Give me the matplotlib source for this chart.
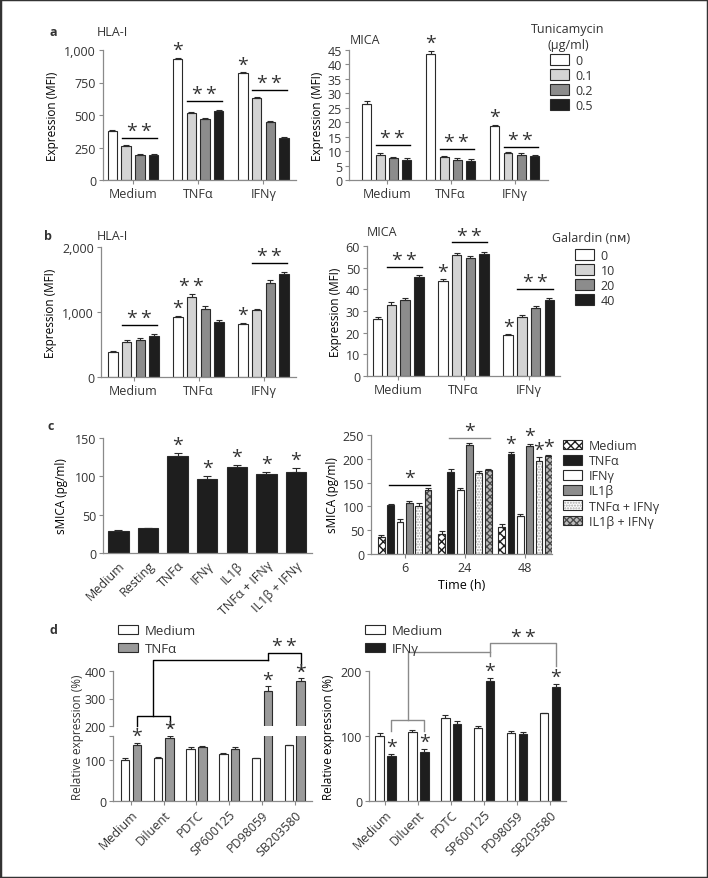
import matplotlib
matplotlib.use('Agg')
import matplotlib.pyplot as plt
import numpy as np
from matplotlib.patches import Patch, Rectangle
from matplotlib.ticker import FuncFormatter

W, H = 708, 879
TXT = '#333333'
EDGE = '#2a2a2a'

plt.rcParams['font.family'] = ['Open Sans', 'DejaVu Sans']
plt.rcParams['font.size'] = 9
plt.rcParams['text.color'] = TXT
plt.rcParams['axes.edgecolor'] = '#8a8a8a'
plt.rcParams['xtick.color'] = '#8a8a8a'
plt.rcParams['ytick.color'] = '#8a8a8a'
plt.rcParams['xtick.labelcolor'] = TXT
plt.rcParams['ytick.labelcolor'] = TXT
plt.rcParams['hatch.linewidth'] = 1.0

# ---- data ----
groups = ['Medium', 'TNFα', 'IFNγ']

# a: tunicamycin
tunicamycin = ['0', '0.1', '0.2', '0.5']
hla_tun = [[375, 258, 192, 192], [930, 515, 470, 528], [820, 630, 448, 322]]
hla_tun_err = [[8, 10, 10, 9], [8, 10, 8, 9], [8, 8, 8, 10]]
mica_tun = [[26.2, 8.8, 7.5, 7.0], [43.5, 7.8, 7.0, 6.6], [18.6, 9.2, 8.6, 8.2]]
mica_tun_err = [[1.0, 0.7, 0.6, 0.7], [1.2, 0.6, 0.6, 0.6], [0.6, 0.5, 0.6, 0.5]]

# b: galardin
galardin = ['0', '10', '20', '40']
hla_gal = [[380, 540, 575, 630], [930, 1235, 1040, 845], [820, 1030, 1450, 1580]]
hla_gal_err = [[20, 30, 20, 25], [15, 40, 45, 30], [15, 20, 45, 35]]
mica_gal = [[26.2, 33.0, 35.2, 45.8], [43.7, 56.0, 54.5, 56.3], [18.7, 27.2, 31.2, 35.2]]
mica_gal_err = [[1.0, 1.0, 1.0, 1.0], [1.0, 1.0, 1.0, 1.0], [0.5, 1.0, 1.0, 1.0]]

# c: sMICA
stimuli = ['Medium', 'Resting', 'TNFα', 'IFNγ', 'IL1β', 'TNFα + IFNγ', 'IL1β + IFNγ']
smica = [29, 32, 127, 97, 112, 103, 106]
smica_err = [1.5, 1, 4, 4, 3, 3, 5]
times = ['6', '24', '48']
time_series = ['Medium', 'TNFα', 'IFNγ', 'IL1β', 'TNFα + IFNγ', 'IL1β + IFNγ']
smica_time = [[36, 102, 67, 107, 101, 135],
              [43, 172, 135, 228, 170, 176],
              [56, 211, 79, 226, 196, 206]]
smica_time_err = [[3, 3, 6, 5, 6, 4],
                  [5, 6, 3, 5, 4, 2],
                  [6, 4, 4, 6, 7, 2]]

# d: inhibitors
inhibitors = ['Medium', 'Diluent', 'PDTC', 'SP600125', 'PD98059', 'SB203580']
rel_tnf = [[101, 137], [107, 155], [128, 132], [115, 128], [105, 328], [137, 364]]
rel_tnf_err = [[4, 6], [2, 5], [5, 4], [2, 4], [2, 17], [0, 10]]
rel_ifn = [[100, 70], [106, 75], [127, 119], [113, 184], [105, 103], [136, 176]]
rel_ifn_err = [[4, 3], [3, 5], [5, 4], [2, 5], [3, 3], [0, 4]]

# significance marks: (group, bar) and lines (group, bar_from, bar_to, level)
a_hla_star = [(1, 0), (2, 0)]
a_hla_lines = [(0, 1, 3, 323), (1, 1, 3, 608), (2, 1, 3, 692)]
a_mica_star = [(1, 0), (2, 0)]
a_mica_lines = [(0, 1, 3, 12.1), (1, 1, 3, 10.8), (2, 1, 3, 11.4)]
b_hla_star = [(1, 0), (2, 0)]
b_hla_dstar = [(1, 1)]
b_hla_lines = [(0, 1, 3, 800), (2, 1, 3, 1754)]
b_mica_star = [(1, 0), (2, 0)]
b_mica_lines = [(0, 1, 3, 50.3), (1, 1, 3, 61.7), (2, 1, 3, 40.1)]
c_star = [2, 3, 4, 5, 6]
c_time_star = [(2, 1), (2, 3), (2, 4), (2, 5)]
c_time_lines = [(0, 1, 5, 145, 'black'), (1, 1, 5, 244, '#8a8a8a')]
d_tnf_star = [(0, 1), (1, 1), (4, 1), (5, 1)]
d_ifn_star = [(0, 1), (1, 1), (3, 1), (5, 1)]
# bracket levels in panel d (inner bracket, link, outer bracket, outer right foot)
d_tnf_brackets = [236, 440, 465, 407]
d_ifn_brackets = [125, 229, 243, 208]

DSTAR = '*\u2009*'

fig = plt.figure(figsize=(W / 100, H / 100), dpi=100)


def box(x0, y0, x1, y1):
    return fig.add_axes([x0 / W, 1 - y1 / H, (x1 - x0) / W, (y1 - y0) / H])


def style(ax):
    for s in ['top', 'right']:
        ax.spines[s].set_visible(False)
    ax.spines['left'].set_linewidth(0.9)
    ax.spines['bottom'].set_linewidth(0.9)
    ax.tick_params(length=3, width=0.8, pad=2, labelsize=9)
    ax.set_facecolor('none')


def bars(ax, vals, errs, colors, pitch, width, hatches=None, hcolors=None):
    vals = np.asarray(vals, float)
    errs = np.asarray(errs, float)
    ng, nb = vals.shape
    base = np.arange(ng)
    pos = np.zeros((ng, nb))
    for j in range(nb):
        p = base + (j - (nb - 1) / 2) * pitch
        pos[:, j] = p
        if hatches and hatches[j]:
            ax.bar(p, vals[:, j], width, color=colors[j], edgecolor=hcolors[j],
                   hatch=hatches[j], lw=0)
            ax.bar(p, vals[:, j], width, fill=False, edgecolor=EDGE, lw=0.8)
        else:
            ax.bar(p, vals[:, j], width, color=colors[j], edgecolor=EDGE, lw=0.8)
        ax.errorbar(p, vals[:, j], yerr=[np.zeros(ng), errs[:, j]], fmt='none',
                    ecolor=EDGE, elinewidth=0.8, capsize=2, capthick=0.8)
    return pos, vals + errs


def star(ax, x, y, s='*', dy=2.0):
    ax.annotate(s, (x, y), xytext=(0, dy), textcoords='offset points',
                ha='center', va='baseline', fontsize=14, color=TXT,
                annotation_clip=False)


def sig_line(ax, x0, x1, y, color='black', s=DSTAR):
    ax.plot([x0, x1], [y, y], color=color, lw=1, clip_on=False)
    star(ax, (x0 + x1) / 2, y, s, dy=1.3)


def letter(s, x, y):
    fig.text(x / W, 1 - y / H, s, fontsize=9, fontweight='bold', va='center')


def title(s, x, y, ha='left'):
    fig.text(x / W, 1 - y / H, s, fontsize=9, va='center', ha=ha)


def legend(handles, labels, x, y, spacing=0.15, hh=0.95, fs=9):
    return fig.legend(handles, labels, loc='upper left',
                      bbox_to_anchor=(x / W, 1 - y / H), frameon=False,
                      handlelength=1.55, handleheight=hh, handletextpad=0.5,
                      labelspacing=spacing, borderpad=0, borderaxespad=0,
                      fontsize=fs)


thousands = FuncFormatter(lambda v, _: '{:,.0f}'.format(v))
tun_colors = ['white', '#d4d4d4', '#8c8c8c', '#1e1e1e']


def patches(colors):
    return [Patch(facecolor=c, edgecolor=EDGE, lw=0.8) for c in colors]


# ---- panel a ----
ax = box(103, 51, 296, 181)
style(ax)
pos, top = bars(ax, hla_tun, hla_tun_err, tun_colors, 0.21, 0.145)
ax.set_xlim(-0.46, 2.5)
ax.set_ylim(0, 1000)
ax.set_yticks([0, 250, 500, 750, 1000])
ax.yaxis.set_major_formatter(thousands)
ax.set_xticks(range(3), groups)
ax.set_ylabel('Expression (MFI)', fontsize=8.5, labelpad=4)
for g, b in a_hla_star:
    star(ax, pos[g, b], top[g, b])
for g, b0, b1, y in a_hla_lines:
    sig_line(ax, pos[g, b0] - 0.07, pos[g, b1] + 0.05, y)
letter('a', 49, 33)
title('HLA-I', 97, 33)

ax = box(349, 51, 548, 181)
style(ax)
pos, top = bars(ax, mica_tun, mica_tun_err, tun_colors, 0.21, 0.14)
ax.set_xlim(-0.59, 2.52)
ax.set_ylim(0, 45)
ax.set_yticks(range(0, 46, 5))
ax.set_xticks(range(3), groups)
ax.set_ylabel('Expression (MFI)', fontsize=8.5, labelpad=3)
for g, b in a_mica_star:
    star(ax, pos[g, b], top[g, b])
for g, b0, b1, y in a_mica_lines:
    sig_line(ax, pos[g, b0] - 0.07, pos[g, b1] + 0.05, y)
title('MICA', 350, 40)
title('Tunicamycin', 568, 30, ha='center')
title('(µg/ml)', 568, 45, ha='center')
legend(patches(tun_colors), tunicamycin, 550, 55)

# ---- panel b ----
ax = box(101, 248, 296, 378)
style(ax)
pos, top = bars(ax, hla_gal, hla_gal_err, tun_colors, 0.21, 0.145)
ax.set_xlim(-0.5, 2.5)
ax.set_ylim(0, 2000)
ax.set_yticks([0, 1000, 2000])
ax.yaxis.set_major_formatter(thousands)
ax.set_xticks(range(3), groups)
ax.set_ylabel('Expression (MFI)', fontsize=8.5, labelpad=4)
for g, b in b_hla_star:
    star(ax, pos[g, b], top[g, b])
for g, b in b_hla_dstar:
    star(ax, pos[g, b], top[g, b], DSTAR)
for g, b0, b1, y in b_hla_lines:
    sig_line(ax, pos[g, b0] - 0.07, pos[g, b1] + 0.05, y)
letter('b', 44, 237)
title('HLA-I', 97, 237)

ax = box(367, 247, 560, 377)
style(ax)
pos, top = bars(ax, mica_gal, mica_gal_err, tun_colors, 0.21, 0.145)
ax.set_xlim(-0.48, 2.48)
ax.set_ylim(0, 60)
ax.set_yticks(range(0, 61, 10))
ax.set_xticks(range(3), groups)
ax.set_ylabel('Expression (MFI)', fontsize=8.5, labelpad=3)
for g, b in b_mica_star:
    star(ax, pos[g, b], top[g, b])
for g, b0, b1, y in b_mica_lines:
    sig_line(ax, pos[g, b0] - 0.07, pos[g, b1] + 0.05, y)
title('MICA', 367, 233)
title('Galardin (nᴍ)', 552, 239)
legend(patches(tun_colors), galardin, 575, 250)

# ---- panel c ----
ax = box(103, 439, 312, 554)
style(ax)
x = np.arange(len(stimuli))
ax.bar(x, smica, 0.69, color='#1e1e1e', edgecolor=EDGE, lw=0.8)
ax.errorbar(x, smica, yerr=[np.zeros(len(x)), smica_err], fmt='none',
            ecolor=EDGE, elinewidth=0.8, capsize=3, capthick=0.8)
ax.set_xlim(-0.52, 6.54)
ax.set_ylim(0, 150)
ax.set_yticks([0, 50, 100, 150])
ax.set_xticks(x)
ax.set_xticklabels(stimuli, rotation=45, ha='right', va='top', rotation_mode='anchor')
ax.tick_params(axis='x', length=0, pad=4)
ax.set_ylabel('sMICA (pg/ml)', fontsize=8.5, labelpad=5)
for i in c_star:
    star(ax, x[i], smica[i] + smica_err[i])
letter('c', 48, 427)

ax = box(371, 436, 552, 555)
style(ax)
t_colors = ['white', '#1e1e1e', 'white', '#8c8c8c', 'white', '#bdbdbd']
t_hatch = ['xxxx', None, None, None, '......', 'xxxxx']
t_hcol = ['#1e1e1e', None, None, None, '#a8a8a8', '#4a4a4a']
pos, top = bars(ax, smica_time, smica_time_err, t_colors, 0.155, 0.113,
                hatches=t_hatch, hcolors=t_hcol)
ax.set_xlim(-0.56, 2.45)
ax.set_ylim(0, 250)
ax.set_yticks(range(0, 251, 50))
ax.set_xticks(range(3), times)
ax.set_xlabel('Time (h)', fontsize=9, labelpad=3)
ax.set_ylabel('sMICA (pg/ml)', fontsize=8.5, labelpad=3)
for g, b in c_time_star:
    star(ax, pos[g, b], top[g, b])
for g, b0, b1, y, col in c_time_lines:
    sig_line(ax, pos[g, b0] - 0.03, pos[g, b1] + 0.03, y, color=col, s='*')
handles = []
for c, h, hc in zip(t_colors, t_hatch, t_hcol):
    if h:
        handles.append((Patch(facecolor=c, edgecolor=hc, hatch=h, lw=0),
                        Patch(fill=False, edgecolor=EDGE, lw=0.8)))
    else:
        handles.append(Patch(facecolor=c, edgecolor=EDGE, lw=0.8))
legend(handles, time_series, 563, 440, spacing=0.17, hh=0.8)

# ---- panel d ----
d_colors_tnf = ['white', '#9a9a9a']
d_colors_ifn = ['white', '#1e1e1e']

up = box(113, 672, 312, 727)
lo = box(113, 737, 312, 802)
for a in (up, lo):
    style(a)
    pos, top = bars(a, rel_tnf, rel_tnf_err, d_colors_tnf, 0.36, 0.26)
    a.set_xlim(-0.55, 5.53)
up.set_ylim(200, 400)
up.set_yticks([200, 300, 400])
up.spines['bottom'].set_visible(False)
up.tick_params(axis='x', bottom=False, labelbottom=False)
lo.set_ylim(0, 160)
lo.set_yticks([0, 100, 160], ['0', '100', ''])
lo.set_xticks(range(len(inhibitors)))
lo.set_xticklabels(inhibitors, rotation=45, ha='right', va='top', rotation_mode='anchor')
for g, b in d_tnf_star:
    a = up if top[g, b] > 200 else lo
    star(a, pos[g, b], top[g, b], dy=1.2)
# brackets
lv0, lv1, lv2, lv3 = d_tnf_brackets
bx0, bx1 = pos[0, 1], pos[1, 1]
bm = (bx0 + bx1) / 2
up.plot([bx0, bx0, bx1, bx1], [200, lv0, lv0, 200], color='black', lw=1, clip_on=False)
up.plot([bm, bm, pos[4, 1]], [lv0, lv1, lv1], color='black', lw=1, clip_on=False)
up.plot([pos[4, 1], pos[4, 1], pos[5, 1], pos[5, 1]], [lv1, lv2, lv2, lv3],
        color='black', lw=1, clip_on=False)
star(up, (pos[4, 1] + pos[5, 1]) / 2, lv2, DSTAR, dy=1.3)
fig.text(78 / W, 1 - 737 / H, 'Relative expression (%)', rotation=90,
         ha='center', va='center', fontsize=8.5)
legend(patches(d_colors_tnf), ['Medium', 'TNFα'], 118, 625, spacing=0.38, hh=0.75, fs=9.5)
letter('d', 50, 631)

ax = box(369, 672, 566, 802)
style(ax)
pos, top = bars(ax, rel_ifn, rel_ifn_err, d_colors_ifn, 0.36, 0.26)
ax.set_xlim(-0.5, 5.49)
ax.set_ylim(0, 200)
ax.set_yticks([0, 100, 200])
ax.set_xticks(range(len(inhibitors)))
ax.set_xticklabels(inhibitors, rotation=45, ha='right', va='top', rotation_mode='anchor')
ax.set_ylabel('Relative expression (%)', fontsize=8.5, labelpad=4)
for g, b in d_ifn_star:
    star(ax, pos[g, b], top[g, b], dy=1.5)
lv0, lv1, lv2, lv3 = d_ifn_brackets
bx0, bx1 = pos[0, 1], pos[1, 1]
bm = (bx0 + bx1) / 2
gray = '#8a8a8a'
ax.plot([bx0, bx0, bx1, bx1], [108, lv0, lv0, 108], color=gray, lw=1, clip_on=False)
ax.plot([bm, bm, pos[3, 1]], [lv0, lv1, lv1], color=gray, lw=1, clip_on=False)
ax.plot([pos[3, 1], pos[3, 1], pos[5, 1], pos[5, 1]], [lv1 - 6, lv2, lv2, lv3],
        color=gray, lw=1, clip_on=False)
star(ax, (pos[3, 1] + pos[5, 1]) / 2, lv2, DSTAR, dy=1.0)
legend(patches(d_colors_ifn), ['Medium', 'IFNγ'], 365, 625, spacing=0.38, hh=0.75, fs=9.5)

fig.patches.append(Rectangle((0, 0), 1, 1, transform=fig.transFigure, fill=False,
                             edgecolor='#333333', lw=2.5))

fig.savefig('out.png', dpi=100)
